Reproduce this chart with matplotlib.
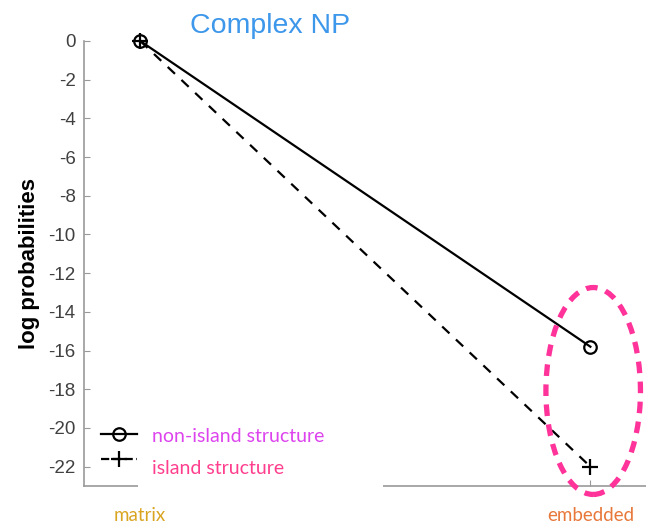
import matplotlib
matplotlib.use("Agg")
import matplotlib.pyplot as plt
from matplotlib.patches import Ellipse, Rectangle
from matplotlib.lines import Line2D
from matplotlib.transforms import ScaledTranslation

categories = ["matrix", "embedded"]
cat_colors = ["#d9a521", "#e8783a"]
non_island = [0.0, -15.8]
island = [0.0, -22.0]
yticks = list(range(0, -23, -2))
series_labels = ["non-island structure", "island structure"]
label_colors = ["#dd44ee", "#ff3f8e"]

fig = plt.figure(figsize=(6.46, 5.29), dpi=100)
ax = fig.add_axes([0.130, 0.0813, 0.871, 0.8412])
x = [1, 2]
ax.plot(x, non_island, '-', color='black', lw=1.6, marker='o', ms=9,
        mfc='none', mec='black', mew=1.6, clip_on=False, zorder=4)
ax.plot(x, island, '--', color='black', lw=1.6, marker='+', ms=11,
        mew=1.6, dashes=(4.5, 4), clip_on=False, zorder=4)
ax.set_xlim(0.875, 2.125)
ax.set_ylim(-23, 0)
ax.set_yticks(yticks)
ax.set_yticklabels([str(t) if t == 0 else "-" + str(-t) for t in yticks],
                   family='Liberation Sans')
ax.set_xticks(x)
ax.set_xticklabels(categories, fontsize=13.5, family='Lato')
for lbl, c in zip(ax.get_xticklabels(), cat_colors):
    lbl.set_color(c)
emb = ax.get_xticklabels()[1]
emb.set_transform(emb.get_transform() + ScaledTranslation(0.07, 0, fig.dpi_scale_trans))
ax.tick_params(axis='x', pad=15, direction='in', length=4, color='#999999')
ax.tick_params(axis='y', direction='in', length=4, color='#999999',
               labelcolor='#404040', labelsize=13.5, pad=6)
for s in ['top', 'right']:
    ax.spines[s].set_visible(False)
for s in ['left', 'bottom']:
    ax.spines[s].set_color('#999999')
    ax.spines[s].set_linewidth(1.2)
ax.spines['left'].set_bounds(-23, 0)
ax.set_ylabel("log probabilities", fontsize=16, fontweight='bold',
              labelpad=6, family='Liberation Sans')

# white box hiding part of axis (legend area)
ax.add_patch(Rectangle((0.0966, -0.01), 0.435, 0.05, transform=ax.transAxes,
                       facecolor='white', edgecolor='none', zorder=5,
                       clip_on=False))

# pink ellipse
ax.add_patch(Ellipse((0.905, 0.2135), 0.168, 0.465, transform=ax.transAxes,
                     fill=False, edgecolor='#ff3399', lw=3.8,
                     linestyle=(0, (2.2, 1.6)), clip_on=False, zorder=6))

handles = [Line2D([], [], color='black', lw=1.6, marker='o', ms=9, mfc='none', mew=1.6),
           Line2D([], [], color='black', lw=1.6, ls='--', marker='+', ms=11, mew=1.6)]
leg = ax.legend(handles, [" ", " "], loc='lower left',
                bbox_to_anchor=(0.003, 0.008), frameon=False,
                prop={'family': 'Lato', 'size': 12}, handlelength=2.2,
                handletextpad=0.5, labelspacing=0.5)
leg.set_zorder(7)

fig.text(152 / 646, 1 - 436 / 529, series_labels[0], color=label_colors[0],
         fontsize=14, family='Lato', ha='left', va='center', zorder=8)
fig.text(152 / 646, 1 - 468 / 529, series_labels[1], color=label_colors[1],
         fontsize=14, family='Lato', ha='left', va='center', zorder=8)

fig.text(0.418, 0.950, "Complex NP", color='#3d97ea', fontsize=20.5,
         ha='center', va='center', family='Liberation Sans')

fig.savefig("out.png", dpi=100)
